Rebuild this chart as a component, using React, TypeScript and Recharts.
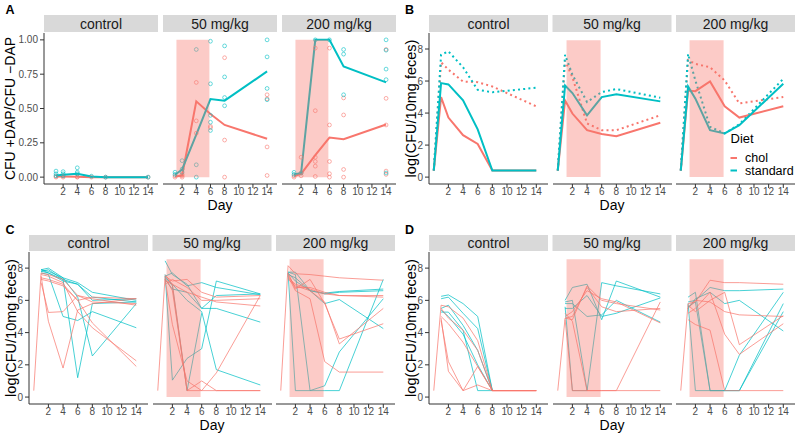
import React from 'react';
import { ComposedChart, Line, Scatter, XAxis, YAxis, ReferenceArea } from 'recharts';

const RED = '#F8766D';
const TEAL = '#00BFC4';
const FONT = '"Liberation Sans", Arial, Helvetica, sans-serif';

const FACETS = ['control', '50 mg/kg', '200 mg/kg'];
const DAY_TICKS = [2, 4, 6, 8, 10, 12, 14];
const RATIO_TICKS = [0, 0.25, 0.5, 0.75, 1];
const LOG_TICKS = [0, 2, 4, 6, 8];
const DOSE_START = 1.2;
const DOSE_END = 5.85;

// A: CFU +DAP / CFU -DAP
const daysA = [1, 2, 4, 6, 8, 14];
const ratioCholMean = [
  [0.005, 0.005, 0.002, 0, 0, 0],
  [0.005, 0.012, 0.552, 0.46, 0.38, 0.28],
  [0.007, 0.024, 0.16, 0.288, 0.276, 0.383],
];
const ratioStdMean = [
  [0.012, 0.017, 0.024, 0.005, 0, 0],
  [0.017, 0.056, 0.31, 0.569, 0.557, 0.77],
  [0.02, 0.03, 1.0, 1.0, 0.806, 0.69],
];
// one list of mice per day
const ratioCholPts = [
  [[0.005, 0], [0.007, 0], [0.002, 0], [0], [0], [0]],
  [[0, 0.01], [0, 0.01, 0.02], [0.69, 0.41, 0.32], [0.37, 0.36], [0.87, 0.27, 0], [0.6, 0.57, 0.22, 0.012]],
  [[0.01, 0], [0.145, 0.03, 0.01], [0.94, 0.484, 0.145, 0.114, 0.08, 0.005], [0.94, 0.38, 0.114, 0.025, 0], [0.577, 0.453, 0.056, 0], [0.93, 0.574, 0.38, 0.044, 0.02]],
];
const ratioStdPts = [
  [[0.044, 0.024, 0.01], [0.04, 0.024, 0.01], [0.068, 0.036, 0.024], [0.007], [0], [0]],
  [[0.036, 0.02], [0.12, 0.058, 0.036], [0.93, 0.09, 0], [0.99, 0.68, 0.45, 0.4, 0.34], [0.956, 0.73, 0.58, 0.52], [1.0, 0.876, 0.646, 0.564]],
  [[0.035, 0.02], [0.03], [1.0], [1.0], [0.93, 0.896, 0.6], [1.0, 0.925, 0.787, 0.71, 0.03]],
];

// B: group summaries, log(CFU/10mg feces)
const daysB = [0, 1, 2, 4, 6, 8, 14];
const logCholSolid = [
  [0.41, 5.0, 3.72, 2.62, 2.07, 0.41, 0.41],
  [0.41, 4.79, 3.97, 2.93, 2.69, 2.56, 3.39],
  [0.41, 5.41, 5.37, 5.97, 4.42, 3.72, 4.42],
];
const logStdSolid = [
  [0.41, 5.87, 5.79, 4.8, 2.98, 0.41, 0.41],
  [0.41, 5.72, 5.25, 3.86, 5.0, 5.17, 4.73],
  [0.41, 5.66, 4.9, 2.93, 2.73, 3.24, 5.83],
];
const logCholDotted = [
  [0.41, 7.17, 6.71, 5.97, 5.93, 5.66, 4.42],
  [0.41, 7.27, 6.24, 3.35, 2.93, 2.93, 3.86],
  [0.41, 7.31, 7.07, 6.86, 6.03, 4.6, 5.0],
];
const logStdDotted = [
  [0.41, 7.64, 7.85, 6.86, 5.45, 5.3, 5.58],
  [0.41, 7.64, 6.4, 4.69, 5.31, 5.5, 4.96],
  [0.41, 7.69, 6.03, 3.14, 2.73, 3.3, 6.14],
];

// C and D: individual mice
const daysCD = [0, 1, 2, 4, 6, 8, 14];
const cChol = [
  [
    [0.4, 7.7, 7.6, 7.3, 6.3, 6.1, 5.7],
    [null, 7.1, 5.25, 5.3, 6.3, 5.9, 5.8],
    [null, 7.5, 4.7, 1.8, 5.4, 5.8, 6.1],
    [null, 7.6, 7.5, 7.1, 5.3, 4.3, 2.25],
    [null, 7.4, 7.3, 7.0, 6.0, 4.6, 1.9],
    [null, 7.3, 7.2, 6.9, 6.0, 6.2, 6.1],
  ],
  [
    [0.4, 7.5, 7.2, 7.3, 6.5, 6.2, 6.3],
    [null, 7.4, 6.6, 0.4, 1.0, 0.4, 0.4],
    [null, 7.6, 7.0, 0.4, 0.4, 1.5, 6.3],
    [null, 7.3, 4.5, 1.0, 0.4, 0.4, 0.4],
    [null, 7.2, 7.0, 6.5, 6.2, 5.9, 5.65],
    [null, 7.0, 7.3, 6.8, 6.0, 6.0, 6.1],
  ],
  [
    [0.4, 8.15, 7.65, 7.6, 7.5, 7.4, 7.25],
    [null, 7.6, 6.8, 6.8, 6.5, 6.3, 6.3],
    [null, 7.7, 6.7, 7.3, 5.8, 3.6, 4.55],
    [null, 7.5, 6.6, 6.1, 2.2, 1.55, 1.55],
    [null, 7.3, 6.9, 6.6, 5.9, 3.3, 5.5],
    [null, 7.4, 7.0, 6.7, 6.4, 6.3, 6.2],
  ],
];
const cStd = [
  [
    [null, 7.9, 8.0, 7.4, 7.1, 6.5, 6.0],
    [null, 7.8, 7.9, 7.3, 7.0, 6.2, 5.9],
    [null, 7.7, 7.6, 5.0, 4.75, 5.3, 4.3],
    [null, 7.8, 7.7, 7.3, 1.2, 5.8, 5.9],
    [null, 7.9, 7.8, 7.4, 6.2, 2.55, 5.8],
    [null, 7.9, 7.7, 7.2, 7.0, 6.0, 6.1],
  ],
  [
    [null, 8.45, 7.6, 7.0, 5.5, 6.3, 6.4],
    [null, 7.6, 1.05, 2.4, 3.0, 7.2, 6.4],
    [null, 7.5, 7.7, 6.9, 7.1, 6.8, 6.35],
    [null, 7.4, 7.0, 6.0, 5.3, 1.7, 0.75],
    [null, 7.3, 6.7, 6.5, 5.5, 5.5, 4.65],
    [null, 7.5, 6.9, 0.4, 5.2, null, null],
  ],
  [
    [null, 7.75, 7.75, 6.6, 6.45, 6.55, 6.7],
    [null, 7.7, 0.4, 0.4, 0.7, 2.8, 6.1],
    [null, 7.75, 7.6, 0.4, 0.4, 0.4, 7.3],
    [null, 7.6, 7.4, 6.6, 5.8, 6.05, 4.25],
    [null, 7.7, 7.2, 6.6, 6.4, 6.5, 6.6],
  ],
];
const dChol = [
  [
    [0.4, 5.7, 5.6, 4.9, 3.5, 0.4, 0.4],
    [null, 5.5, 4.9, 4.15, 2.9, 0.4, 0.4],
    [null, 5.0, 4.55, 3.4, 1.9, 0.4, 0.4],
    [null, 4.75, 2.2, 0.4, 0.75, 0.4, 0.4],
    [null, 4.9, 1.6, 0.4, 1.9, 0.4, 0.4],
  ],
  [
    [0.4, 4.9, 4.8, 6.9, 6.0, 5.8, 5.4],
    [null, 5.0, 5.3, 6.6, 6.1, 5.9, 4.6],
    [null, 4.8, 0.4, 0.4, 0.4, 0.4, 0.4],
    [null, 5.2, 4.7, 0.4, 0.4, 0.4, 5.9],
    [null, 4.9, 5.0, 6.8, 5.6, 5.3, 5.5],
  ],
  [
    [0.4, 5.8, 5.9, 7.25, 7.1, 7.1, 7.0],
    [null, 5.5, 6.0, 5.9, 5.3, 5.1, 5.0],
    [null, 4.8, 4.5, 4.15, 0.4, 0.4, 0.4],
    [null, 5.2, 5.5, 6.5, 3.9, 2.65, 4.55],
    [null, 5.7, 5.3, 6.0, 6.5, 3.25, 5.05],
  ],
];
const dStd = [
  [
    [null, 6.25, 6.34, 5.8, 5.0, 0.4, null],
    [null, 6.1, 6.2, 5.2, 4.25, 0.4, null],
    [null, 5.5, 5.7, 4.45, 2.9, 0.4, null],
    [null, 5.27, 5.27, 4.15, 0.4, 0.4, null],
    [null, 5.4, 5.0, 3.9, 2.0, 0.4, null],
  ],
  [
    [null, 6.0, 6.8, 7.0, 4.8, 7.2, 6.2],
    [null, 5.9, 6.0, 0.4, 7.1, 6.9, 6.4],
    [null, 5.5, 5.5, 6.3, 5.0, 5.2, 6.15],
    [null, 5.8, 5.8, 5.0, 5.1, 6.0, 4.65],
    [null, 5.6, 0.4, 0.4, null, null, null],
  ],
  [
    [null, 6.2, 6.5, 0.4, 0.4, 0.4, 5.8],
    [null, 5.8, 0.4, 0.4, 0.4, 2.6, 6.5],
    [null, 5.9, 6.0, 6.8, 6.6, 6.6, 6.7],
    [null, 5.5, 6.1, 6.5, 5.8, 6.0, 4.1],
    [null, 5.6, 5.9, 0.4, 0.4, 0.4, 5.3],
  ],
];

type Pt = { day: number; v: number };
type LineSpec = { data: Pt[]; color: string; width: number; dash?: string; opacity?: number };
type PtSpec = { data: Pt[]; color: string };

const toSeries = (days: number[], vals: (number | null)[]): Pt[] =>
  days.map((d, i) => ({ day: d, v: vals[i] as number })).filter((p) => p.v != null);

const toPoints = (days: number[], perDay: number[][]): Pt[] =>
  perDay.flatMap((vals, i) => vals.map((v) => ({ day: days[i], v })));

const X_AXIS_H = 20;

const Facet = ({ left, top, w, h, xDomain, yDomain, yTicks, yFmt, yAxisW, shadeTop, lines, points }: any) => {
  const showY = yAxisW > 0;
  const tickStyle = { fontSize: 10, fill: '#4D4D4D', fontFamily: FONT };
  return (
    <div style={{ position: 'absolute', left: left - yAxisW, top }}>
      <ComposedChart width={w + yAxisW} height={h + X_AXIS_H} margin={{ top: 0, right: 0, bottom: 0, left: 0 }}>
        <XAxis type="number" dataKey="day" domain={xDomain} ticks={DAY_TICKS} interval={0} allowDataOverflow
          height={X_AXIS_H} tickSize={4} tickMargin={0} tick={tickStyle}
          axisLine={{ stroke: '#333333' }} tickLine={{ stroke: '#333333' }} />
        <YAxis type="number" dataKey="v" domain={yDomain} ticks={yTicks} interval={0} allowDataOverflow
          hide={!showY} width={yAxisW} tickSize={4} tickMargin={2} tick={tickStyle} tickFormatter={yFmt}
          axisLine={{ stroke: '#333333' }} tickLine={{ stroke: '#333333' }} />
        {points.map((p: PtSpec, i: number) => (
          <Scatter key={'p' + i} data={p.data} dataKey="v" isAnimationActive={false}
            shape={(s: any) => (
              <circle cx={s.cx} cy={s.cy} r={1.9} fill="none" stroke={p.color} strokeWidth={0.7} strokeOpacity={0.85} />
            )} />
        ))}
        {lines.map((l: LineSpec, i: number) => (
          <Line key={'l' + i} data={l.data} dataKey="v" type="linear" stroke={l.color} strokeWidth={l.width}
            strokeDasharray={l.dash} strokeOpacity={l.opacity ?? 1} strokeLinecap="butt"
            dot={false} activeDot={false} isAnimationActive={false} />
        ))}
        {shadeTop != null && (
          <ReferenceArea x1={DOSE_START} x2={DOSE_END} y1={0} y2={shadeTop} fill={RED} fillOpacity={0.38}
            stroke="none" zIndex={1500} />
        )}
      </ComposedChart>
    </div>
  );
};

const LAYOUT: any = {
  A: { facetX: [44, 163, 282], facetW: 114, stripY: 15, stripH: 17, plotTop: 33, plotH: 151, yAxisW: 44, xDomain: [-0.7, 15.4] },
  B: { facetX: [429, 552.5, 676], facetW: 119, stripY: 15, stripH: 17, plotTop: 33, plotH: 151, yAxisW: 24, xDomain: [-0.65, 15.6] },
  C: { facetX: [29, 152.5, 276], facetW: 119, stripY: 235, stripH: 16, plotTop: 252, plotH: 152, yAxisW: 24, xDomain: [-0.65, 15.6] },
  D: { facetX: [429, 552.5, 676], facetW: 119, stripY: 235, stripH: 16, plotTop: 252, plotH: 152, yAxisW: 24, xDomain: [-0.65, 15.6] },
};

const panelA = (f: number): { lines: LineSpec[]; points: PtSpec[] } => ({
  points: [
    { data: toPoints(daysA, ratioCholPts[f]), color: RED },
    { data: toPoints(daysA, ratioStdPts[f]), color: TEAL },
  ],
  lines: [
    { data: toSeries(daysA, ratioCholMean[f]), color: RED, width: 2 },
    { data: toSeries(daysA, ratioStdMean[f]), color: TEAL, width: 2 },
  ],
});

const panelB = (f: number): { lines: LineSpec[]; points: PtSpec[] } => ({
  points: [],
  lines: [
    { data: toSeries(daysB, logCholDotted[f]), color: RED, width: 2, dash: '2 3.2' },
    { data: toSeries(daysB, logStdDotted[f]), color: TEAL, width: 2, dash: '2 3.2' },
    { data: toSeries(daysB, logCholSolid[f]), color: RED, width: 2 },
    { data: toSeries(daysB, logStdSolid[f]), color: TEAL, width: 2 },
  ],
});

const mice = (chol: (number | null)[][], std: (number | null)[][]): { lines: LineSpec[]; points: PtSpec[] } => ({
  points: [],
  lines: [
    ...std.map((m) => ({ data: toSeries(daysCD, m), color: TEAL, width: 0.8, opacity: 0.9 })),
    ...chol.map((m) => ({ data: toSeries(daysCD, m), color: RED, width: 0.8, opacity: 0.9 })),
  ],
});

const PanelCharts = ({ name, build, yDomain, yTicks, yFmt, shadeTop }: any) => {
  const L = LAYOUT[name];
  return (
    <>
      {L.facetX.map((x: number, f: number) => {
        const s = build(f);
        return (
          <Facet key={name + f} left={x} top={L.plotTop} w={L.facetW} h={L.plotH} xDomain={L.xDomain}
            yDomain={yDomain} yTicks={yTicks} yFmt={yFmt} yAxisW={f === 0 ? L.yAxisW : 0}
            shadeTop={f === 0 ? null : shadeTop} lines={s.lines} points={s.points} />
        );
      })}
    </>
  );
};

const Decor = () => {
  const yTitles: [string, number, number, string][] = [
    ['A', 10, 108.5, 'CFU +DAP/CFU \u2212DAP'],
    ['B', 411, 108.5, 'log(CFU/10mg feces)'],
    ['C', 11, 328, 'log(CFU/10mg feces)'],
    ['D', 411, 328, 'log(CFU/10mg feces)'],
  ];
  const letters: [string, number, number][] = [['A', 5.5, 13.5], ['B', 405, 13.5], ['C', 5.5, 233.5], ['D', 405, 234]];
  return (
    <svg width={798} height={435} style={{ position: 'absolute', left: 0, top: 0 }} fontFamily={FONT}>
      {letters.map(([t, x, y]) => (
        <text key={t} x={x} y={y} fontSize={12.5} fontWeight="bold" fill="#000">{t}</text>
      ))}
      {Object.keys(LAYOUT).map((k) => {
        const L = LAYOUT[k];
        const x0 = L.facetX[0];
        const x1 = L.facetX[2] + L.facetW;
        return (
          <g key={k}>
            {L.facetX.map((x: number, f: number) => (
              <g key={f}>
                <rect x={x} y={L.stripY} width={L.facetW} height={L.stripH} fill="#D9D9D9" />
                <text x={x + L.facetW / 2} y={L.stripY + L.stripH / 2 + 5} textAnchor="middle" fontSize={14} fill="#1A1A1A">
                  {FACETS[f]}
                </text>
              </g>
            ))}
            <text x={(x0 + x1) / 2} y={L.plotTop + L.plotH + 25.5} textAnchor="middle" fontSize={14} fill="#000">Day</text>
          </g>
        );
      })}
      {yTitles.map(([k, x, y, t]) => (
        <text key={k} transform={`translate(${x},${y}) rotate(-90)`} textAnchor="middle" dominantBaseline="central"
          fontSize={k === 'A' ? 14 : 14.5} fill="#000">{t}</text>
      ))}
      <text x={730.5} y={143} fontSize={13} fill="#000">Diet</text>
      <line x1={730.5} x2={737} y1={158} y2={158} stroke={RED} strokeWidth={2} />
      <text x={745} y={162} fontSize={12.5} fill="#000">chol</text>
      <line x1={730.5} x2={737} y1={170.5} y2={170.5} stroke={TEAL} strokeWidth={2} />
      <text x={745} y={174.8} fontSize={12.5} fill="#000">standard</text>
    </svg>
  );
};

export default function App() {
  return (
    <div style={{ position: 'absolute', left: 0, top: 0, width: 798, height: 435, background: '#fff', overflow: 'hidden' }}>
      <Decor />
      <PanelCharts name="A" build={panelA} yDomain={[-0.05, 1.05]} yTicks={RATIO_TICKS}
        yFmt={(v: number) => v.toFixed(2)} shadeTop={1} />
      <PanelCharts name="B" build={panelB} yDomain={[-0.43, 9.0]} yTicks={LOG_TICKS}
        yFmt={(v: number) => String(v)} shadeTop={8.55} />
      <PanelCharts name="C" build={(f: number) => mice(cChol[f], cStd[f])} yDomain={[-0.43, 9.0]} yTicks={LOG_TICKS}
        yFmt={(v: number) => String(v)} shadeTop={8.55} />
      <PanelCharts name="D" build={(f: number) => mice(dChol[f], dStd[f])} yDomain={[-0.43, 9.0]} yTicks={LOG_TICKS}
        yFmt={(v: number) => String(v)} shadeTop={8.55} />
    </div>
  );
}
